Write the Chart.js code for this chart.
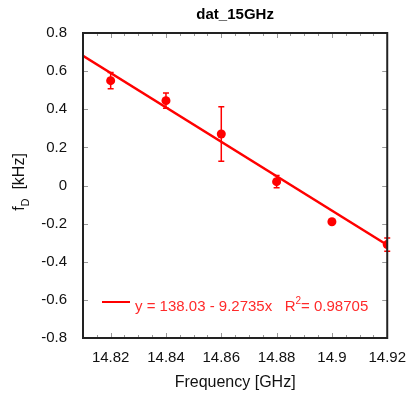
<!DOCTYPE html>
<html lang="en">
<head>
    <meta charset="UTF-8">
    <title>dat_15GHz</title>
    <style>
        body {
            margin: 0;
            background-color: #fff;
        }
        #chartCanvas {
            display: block;
        }
    </style>
</head>
<body>
    <canvas id="chartCanvas" width="409" height="396"></canvas>
    <script src="https://cdn.jsdelivr.net/npm/chart.js"></script>
    <script>
        // measured data (frequency in GHz, f_D in kHz)
        const freq = [14.82, 14.84, 14.86, 14.88, 14.90, 14.92];
        const fD = [0.55, 0.445, 0.27, 0.02, -0.19, -0.31];
        const fDErr = [0.043, 0.04, 0.143, 0.032, 0.006, 0.035];

        // linear fit line end points
        const fitX = [14.81, 14.92];
        const fitY = [0.68, -0.312];

        const xTicks = [14.82, 14.84, 14.86, 14.88, 14.90, 14.92];
        const xTickLabels = ['14.82', '14.84', '14.86', '14.88', '14.9', '14.92'];
        const yTicks = [-0.8, -0.6, -0.4, -0.2, 0, 0.2, 0.4, 0.6, 0.8];
        const yTickLabels = ['-0.8', '-0.6', '-0.4', '-0.2', '0', '0.2', '0.4', '0.6', '0.8'];

        const titleText = 'dat_15GHz';
        const xTitle = 'Frequency [GHz]';
        const fitLabel = 'y = 138.03 - 9.2735x   R';
        const fitR2 = '0.98705';

        const FONT = "Arial, 'Liberation Sans', sans-serif";
        const RED = '#ff0000';

        const decorations = {
            id: 'decorations',
            beforeDatasetsDraw(chart) {
                const ctx = chart.ctx;
                const xs = chart.scales.x, ys = chart.scales.y;
                // error bars
                ctx.save();
                ctx.strokeStyle = RED;
                ctx.lineWidth = 1.5;
                freq.forEach((f, i) => {
                    if (fDErr[i] < 0.01) return;
                    const px = xs.getPixelForValue(f);
                    const y1 = ys.getPixelForValue(fD[i] + fDErr[i]);
                    const y2 = ys.getPixelForValue(fD[i] - fDErr[i]);
                    ctx.beginPath();
                    ctx.moveTo(px, y1); ctx.lineTo(px, y2);
                    ctx.moveTo(px - 3, y1); ctx.lineTo(px + 3, y1);
                    ctx.moveTo(px - 3, y2); ctx.lineTo(px + 3, y2);
                    ctx.stroke();
                });
                ctx.restore();
            },
            afterDraw(chart) {
                const ctx = chart.ctx;
                const { left, right, top, bottom } = chart.chartArea;
                const xs = chart.scales.x, ys = chart.scales.y;
                ctx.save();

                // inward ticks
                ctx.strokeStyle = '#999';
                ctx.lineWidth = 1;
                ctx.beginPath();
                for (let v = 14.81; v < 14.9201; v += 0.005) {
                    const px = Math.round(xs.getPixelForValue(v)) + 0.5;
                    const major = xTicks.some(t => Math.abs(t - v) < 1e-6);
                    const len = major ? 5 : 3;
                    ctx.moveTo(px, bottom); ctx.lineTo(px, bottom - len);
                    ctx.moveTo(px, top); ctx.lineTo(px, top + len);
                }
                yTicks.forEach(v => {
                    const py = Math.round(ys.getPixelForValue(v)) + 0.5;
                    ctx.moveTo(left, py); ctx.lineTo(left + 5, py);
                    ctx.moveTo(right, py); ctx.lineTo(right - 5, py);
                });
                ctx.stroke();

                // frame
                ctx.strokeStyle = '#222';
                ctx.lineWidth = 2;
                ctx.strokeRect(left, top, right - left, bottom - top);

                // title
                ctx.fillStyle = '#000';
                ctx.textAlign = 'center';
                ctx.textBaseline = 'middle';
                ctx.font = 'bold 15px ' + FONT;
                ctx.fillText(titleText, (left + right) / 2, 15);

                // x title
                ctx.font = '16px ' + FONT;
                ctx.fillStyle = '#111';
                ctx.fillText(xTitle, (left + right) / 2, 383);

                // y title: f_D [kHz]
                ctx.save();
                ctx.translate(24, 182);
                ctx.rotate(-Math.PI / 2);
                ctx.textAlign = 'left';
                ctx.textBaseline = 'alphabetic';
                const f = 'f', sub = 'D', rest = '  [kHz]';
                ctx.font = '16px ' + FONT;
                const wf = ctx.measureText(f).width;
                ctx.font = '11px ' + FONT;
                const ws = ctx.measureText(sub).width;
                ctx.font = '16px ' + FONT;
                const wr = ctx.measureText(rest).width;
                let x0 = -(wf + ws + wr) / 2;
                ctx.fillText(f, x0, 0);
                ctx.font = '11px ' + FONT;
                ctx.fillText(sub, x0 + wf, 5);
                ctx.font = '16px ' + FONT;
                ctx.fillText(rest, x0 + wf + ws, 0);
                ctx.restore();

                // fit legend
                const ly = 302;
                ctx.strokeStyle = RED;
                ctx.lineWidth = 2;
                ctx.beginPath();
                ctx.moveTo(102, ly); ctx.lineTo(130, ly);
                ctx.stroke();
                ctx.fillStyle = '#ff2a2a';
                ctx.textAlign = 'left';
                ctx.textBaseline = 'alphabetic';
                ctx.font = '15px ' + FONT;
                let tx = 135;
                const base = 311;
                ctx.fillText(fitLabel, tx, base);
                tx += ctx.measureText(fitLabel).width;
                ctx.font = '10px ' + FONT;
                ctx.fillText('2', tx, base - 7);
                tx += ctx.measureText('2').width;
                ctx.font = '15px ' + FONT;
                ctx.fillText('= ' + fitR2, tx, base);

                ctx.restore();
            }
        };

        const ctx = document.getElementById('chartCanvas').getContext('2d');
        const chart = new Chart(ctx, {
            type: 'scatter',
            data: {
                datasets: [
                    {
                        label: 'fit',
                        data: fitX.map((x, i) => ({ x: x, y: fitY[i] })),
                        showLine: true,
                        borderColor: RED,
                        borderWidth: 2.5,
                        pointRadius: 0
                    },
                    {
                        label: 'data',
                        data: freq.map((x, i) => ({ x: x, y: fD[i] })),
                        backgroundColor: RED,
                        borderColor: RED,
                        pointRadius: 4.5,
                        borderWidth: 0
                    }
                ]
            },
            options: {
                responsive: false,
                animation: false,
                layout: { padding: { top: 33, right: 21, left: 0, bottom: 0 } },
                plugins: {
                    legend: { display: false },
                    title: { display: false },
                    tooltip: { enabled: false }
                },
                scales: {
                    x: {
                        type: 'linear',
                        min: 14.81,
                        max: 14.92,
                        grid: { display: false },
                        border: { display: false },
                        afterBuildTicks: s => { s.ticks = xTicks.map(v => ({ value: v })); },
                        afterFit: s => { s.height = 58; },
                        ticks: {
                            color: '#111',
                            font: { family: FONT, size: 15 },
                            padding: 3,
                            maxRotation: 0,
                            autoSkip: false,
                            callback: (v, i) => xTickLabels[i]
                        }
                    },
                    y: {
                        min: -0.8,
                        max: 0.8,
                        grid: { display: false },
                        border: { display: false },
                        afterBuildTicks: s => { s.ticks = yTicks.map(v => ({ value: v })); },
                        afterFit: s => { s.width = 83; },
                        ticks: {
                            color: '#111',
                            font: { family: FONT, size: 15 },
                            padding: 8,
                            autoSkip: false,
                            callback: (v, i) => yTickLabels[i]
                        }
                    }
                }
            },
            plugins: [decorations]
        });
    </script>
</body>
</html>
